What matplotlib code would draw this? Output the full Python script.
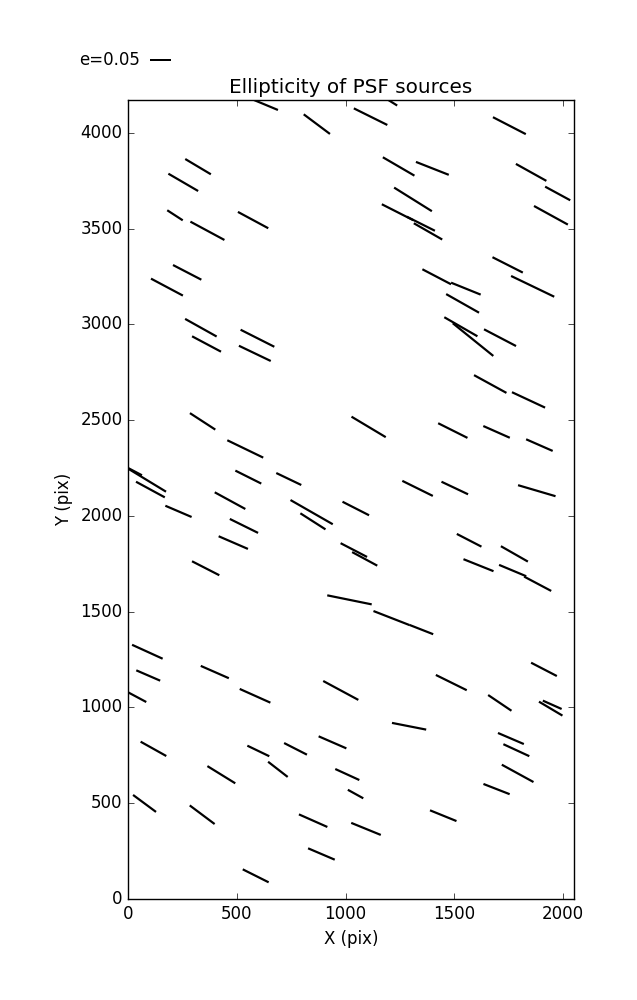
import numpy as np
import matplotlib
matplotlib.use("Agg")
import matplotlib.pyplot as plt

# PSF source positions (pix), ellipticity and position angle (deg)
x_pix = [634, 868, 322, 254, 216, 365, 575, 272, 179, 1198,
         1115, 1753, 1244, 1399, 1853, 1975, 1310, 1944, 1239, 1346,
         1379, 1745, 1860, 1419, 1553, 1538, 335, 361, 595, 583,
         343, 539, 553, 739, 89, 18, 103, 469, 1106, 1530,
         1586, 1710, 1665, 1841, 1493, 1694, 1891, 1331, 1502, 1879,
         232, 844, 850, 1047, 533, 484, 1038, 1088, 357, 1018,
         89, 93, 399, 9, 584, 978, 1568, 1776, 1611, 1768,
         1883, 1211, 1348, 1912, 1486, 1709, 117, 599, 770, 940,
         429, 689, 1008, 1046, 76, 341, 851, 1094, 889, 587,
         1292, 1943, 1950, 1760, 1785, 1791, 1694, 1449]
y_pix = [4146, 4046, 3824, 3742, 3570, 3489, 3545, 3272, 3195, 4171,
         4085, 4038, 3825, 3815, 3794, 3684, 3653, 3570, 3586, 3526,
         3486, 3311, 3199, 3249, 3187, 3110, 2983, 2898, 2928, 2849,
         2494, 2350, 2203, 2193, 2186, 2240, 2138, 2080, 2465, 2988,
         2921, 2931, 2689, 2606, 2446, 2439, 2370, 2144, 2146, 2132,
         2024, 2020, 1972, 2039, 1948, 1861, 1822, 1776, 1727, 1562,
         1291, 1167, 1185, 1074, 1061, 1089, 1873, 1802, 1743, 1715,
         1646, 1467, 1407, 1199, 1130, 1024, 784, 773, 784, 818,
         649, 677, 650, 548, 499, 440, 409, 366, 235, 121,
         902, 994, 1014, 838, 777, 656, 574, 435]
ellip = [0.062, 0.078, 0.071, 0.082, 0.044, 0.092, 0.082, 0.076, 0.086, 0.048,
         0.089, 0.088, 0.087, 0.084, 0.083, 0.068, 0.106, 0.092, 0.084, 0.075,
         0.078, 0.081, 0.114, 0.077, 0.076, 0.090, 0.086, 0.078, 0.090, 0.084,
         0.072, 0.095, 0.069, 0.066, 0.104, 0.054, 0.078, 0.083, 0.095, 0.091,
         0.124, 0.086, 0.088, 0.087, 0.078, 0.069, 0.069, 0.081, 0.070, 0.093,
         0.068, 0.116, 0.071, 0.071, 0.075, 0.076, 0.071, 0.068, 0.073, 0.108,
         0.080, 0.062, 0.073, 0.088, 0.080, 0.095, 0.066, 0.074, 0.077, 0.070,
         0.073, 0.092, 0.061, 0.069, 0.082, 0.067, 0.070, 0.058, 0.061, 0.072,
         0.078, 0.059, 0.063, 0.042, 0.068, 0.074, 0.074, 0.076, 0.069, 0.069,
         0.083, 0.065, 0.049, 0.067, 0.068, 0.086, 0.067, 0.068]
angle = [-22.6, -36.8, -30.8, -30.2, -33.0, -28.3, -28.3, -27.4, -28.0, -32.0,
         -26.4, -27.3, -30.2, -21.5, -29.1, -28.5, -32.0, -28.8, -26.9, -26.6,
         -29.8, -26.9, -25.7, -27.6, -22.0, -29.5, -29.2, -28.0, -26.8, -25.6,
         -33.0, -25.8, -26.6, -25.6, -31.3, -27.7, -28.5, -28.6, -30.9, -29.9,
         -38.9, -27.6, -28.7, -25.0, -26.6, -23.9, -23.7, -26.3, -25.3, -16.4,
         -23.2, -29.8, -32.6, -27.0, -26.3, -23.4, -27.5, -28.4, -27.1, -11.5,
         -24.5, -23.4, -23.7, -28.1, -24.1, -28.3, -27.3, -29.7, -21.8, -22.7,
         -27.9, -21.3, -21.4, -27.4, -26.3, -34.0, -29.2, -25.7, -27.0, -23.5,
         -31.7, -37.8, -24.6, -28.9, -36.5, -36.8, -23.9, -22.2, -23.1, -26.6,
         -11.1, -30.7, -24.0, -23.2, -24.8, -28.7, -21.3, -22.1]

key_e = 0.05

plt.style.use("classic")

x = np.array(x_pix, dtype=float)
y = np.array(y_pix, dtype=float)
e = np.array(ellip)
th = np.radians(angle)
u = e * np.cos(th)
v = e * np.sin(th)

fig = plt.figure(figsize=(6.37, 10), dpi=100)
ax = fig.add_axes([128 / 637, 0.101, 446 / 637, 0.799])

q = ax.quiver(x, y, u, v, angles="uv", pivot="middle",
              scale_units="inches", scale=0.05 / 0.21,
              units="dots", width=2.2,
              headwidth=0, headlength=0, headaxislength=0, color="k")

ax.quiverkey(q, 149.5 / 637, 0.94, key_e, "e=0.05", labelpos="W",
             coordinates="figure", labelsep=0.09,
             fontproperties={"size": 12})

ax.set_xlim(0, 2050)
ax.set_ylim(0, 4172)
ax.set_xticks(np.arange(0, 2001, 500))
ax.set_yticks(np.arange(0, 4001, 500))
ax.set_xlabel("X (pix)")
ax.set_ylabel("Y (pix)")
ax.set_title("Ellipticity of PSF sources")

fig.savefig("out.png", dpi=100, facecolor="white")
